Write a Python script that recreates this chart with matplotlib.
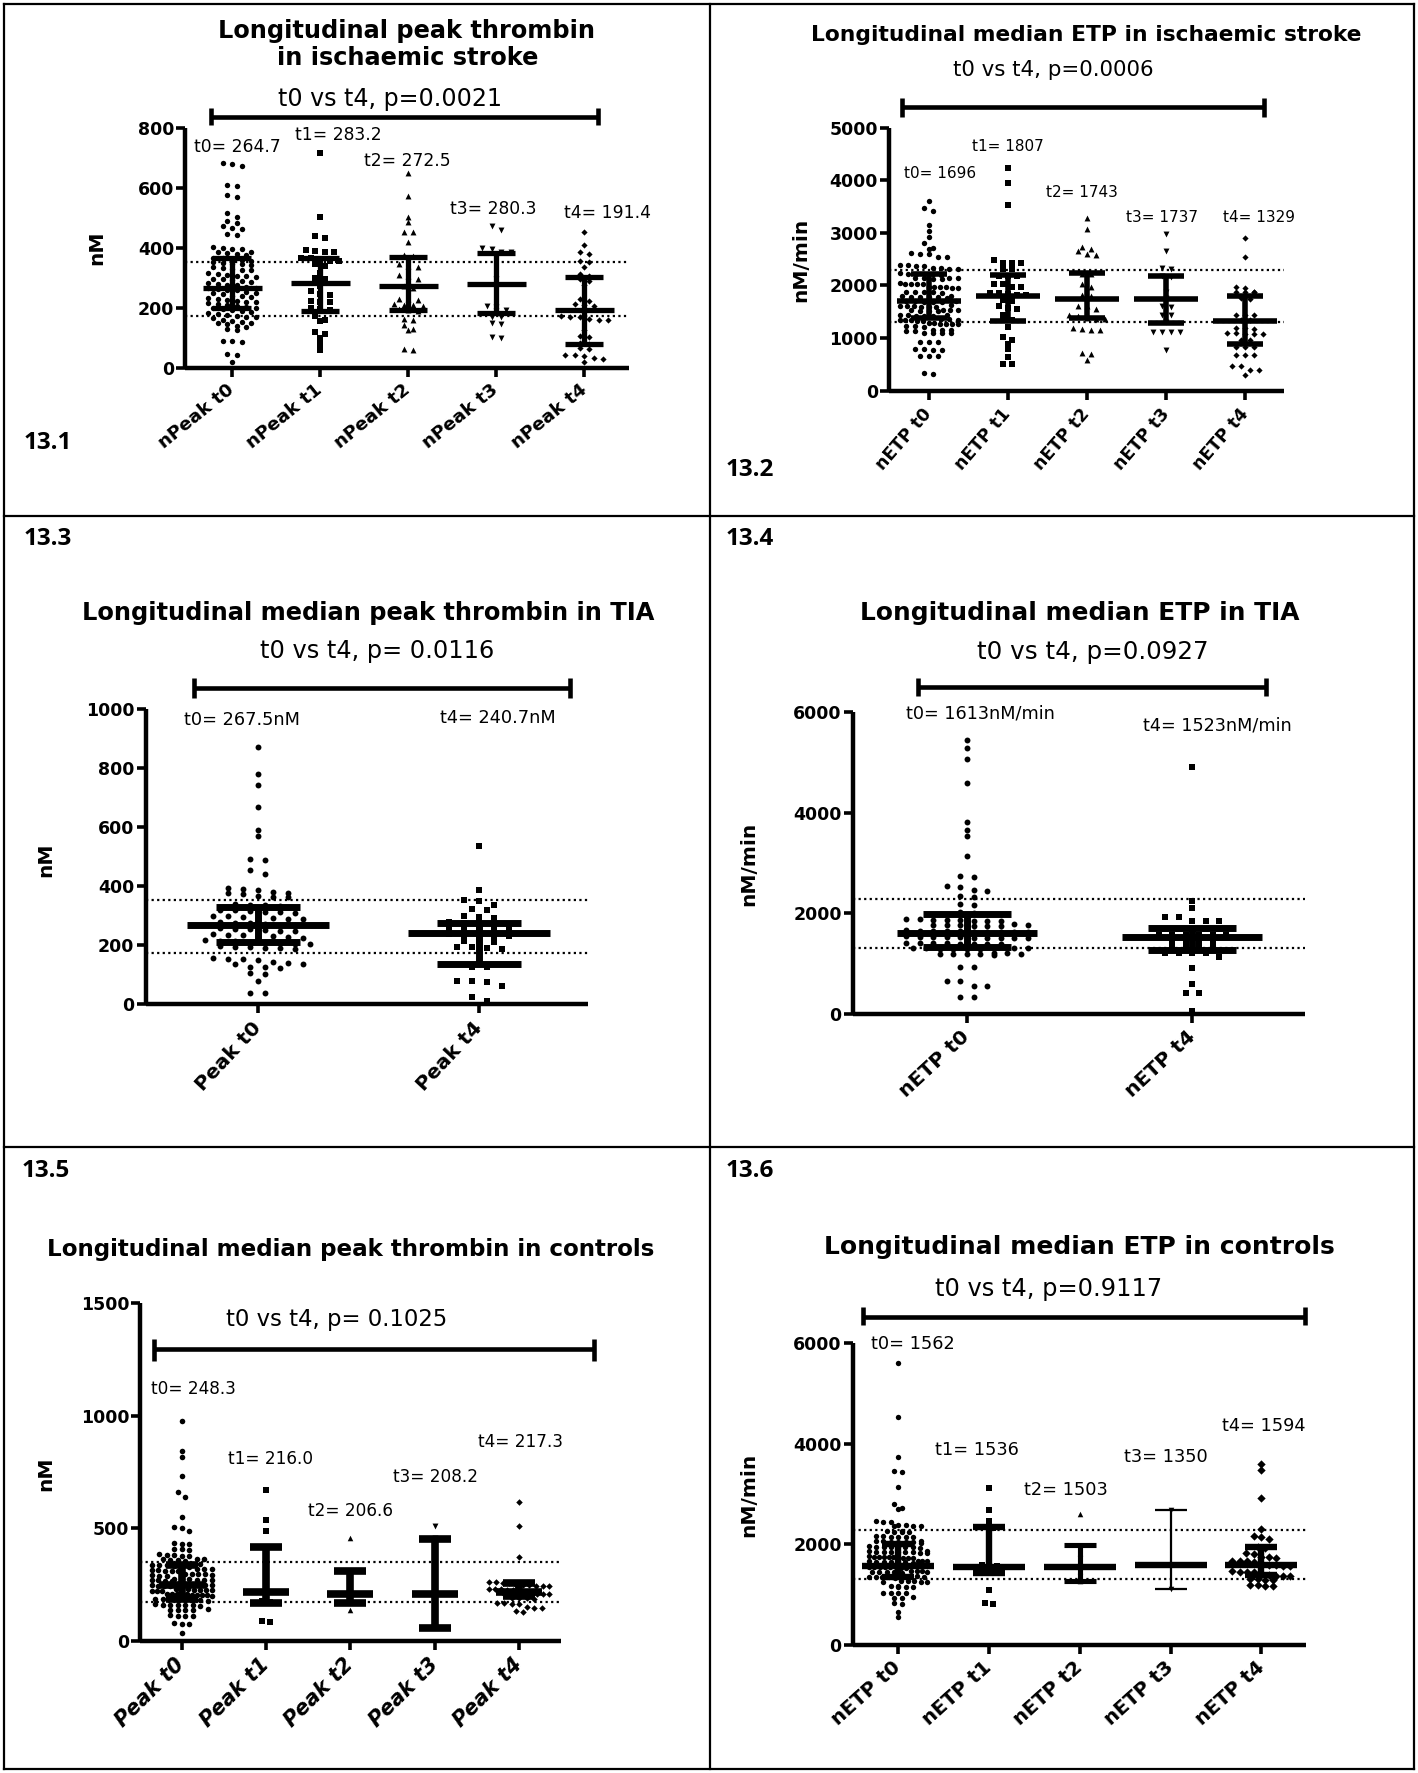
import numpy as np
import matplotlib
matplotlib.use("Agg")
import matplotlib.pyplot as plt
from matplotlib.lines import Line2D

plt.rcParams['font.family'] = ['DejaVu Sans']

# ======================= DATA =======================
peak_ref = [173, 352]
etp_ref = [1310, 2290]

# ---- 13.1 peak thrombin, ischaemic stroke ----
p1_categories = ["nPeak t0", "nPeak t1", "nPeak t2", "nPeak t3", "nPeak t4"]
p1_t0 = [685, 680, 675, 609, 606, 577, 570, 517, 502, 490, 485, 472, 468, 465, 448, 445,
         402, 400, 398, 395, 388, 385, 383, 380, 378, 368, 365, 362, 360, 355, 352, 350,
         348, 345, 342, 335, 332, 330, 328, 325, 315, 312, 310, 308, 305, 302, 298, 295,
         292, 290, 285, 282, 280, 278, 275, 270, 268, 265, 262, 260, 258, 252, 250, 248,
         245, 240, 238, 235, 232, 230, 225, 222, 220, 218, 215, 212, 208, 205, 203, 200,
         198, 195, 192, 188, 185, 182, 180, 175, 172, 170, 168, 165, 158, 155, 152, 150,
         148, 145, 138, 135, 130, 125, 90, 88, 85, 45, 42, 20]
p1_t1 = [718, 504, 440, 435, 392, 390, 388, 385, 368, 365, 362, 358, 355, 345, 340, 318,
         300, 295, 272, 255, 245, 242, 222, 220, 218, 198, 195, 192, 172, 158, 155, 118,
         112, 100, 80, 58]
p1_t2 = [650, 573, 505, 488, 455, 452, 420, 375, 372, 345, 340, 338, 310, 305, 295, 290,
         272, 268, 230, 228, 225, 212, 210, 208, 205, 195, 192, 190, 162, 158, 143, 128,
         125, 62, 60]
p1_t3 = [472, 460, 400, 398, 388, 385, 298, 205, 202, 192, 188, 170, 168, 150, 146, 102, 98]
p1_t4 = [455, 410, 385, 380, 358, 352, 338, 312, 308, 295, 290, 276, 228, 224, 212, 210,
         207, 188, 172, 170, 168, 162, 160, 158, 126, 106, 102, 82, 80, 66, 64, 44, 42, 40,
         32, 30, 20]
p1_median = [264.7, 283.2, 272.5, 280.3, 191.4]
p1_q1 = [200, 190, 193, 182, 79]
p1_q3 = [368, 368, 369, 382, 302]
p1_labels = ["t0= 264.7", "t1= 283.2", "t2= 272.5", "t3= 280.3", "t4= 191.4"]
p1_title = ["Longitudinal peak thrombin", "in ischaemic stroke"]
p1_ptext = "t0 vs t4, p=0.0021"

# ---- 13.2 ETP, ischaemic stroke ----
p2_categories = ["nETP t0", "nETP t1", "nETP t2", "nETP t3", "nETP t4"]
p2_t0 = [3610, 3480, 3420, 3155, 3040, 2915, 2800, 2715, 2700, 2610, 2600, 2590, 2545, 2535,
         2390, 2385, 2380, 2375, 2330, 2325, 2320, 2315, 2230, 2225, 2220, 2215, 2210, 2205,
         2150, 2145, 2140, 2135, 2130, 2125, 2040, 2035, 2030, 2025, 2020, 1980, 1975, 1970,
         1965, 1960, 1955, 1885, 1880, 1875, 1870, 1865, 1800, 1795, 1790, 1785, 1780, 1775,
         1770, 1710, 1705, 1700, 1695, 1690, 1685, 1620, 1615, 1610, 1605, 1600, 1595, 1590,
         1540, 1535, 1530, 1525, 1520, 1515, 1510, 1440, 1435, 1430, 1425, 1420, 1415, 1360,
         1355, 1350, 1345, 1340, 1335, 1330, 1325, 1285, 1280, 1275, 1270, 1265, 1260, 1230,
         1225, 1220, 1155, 1150, 1145, 1140, 1135, 1105, 1100, 1095, 1090, 935, 930, 925,
         790, 785, 780, 775, 665, 660, 655, 335, 325]
p2_t1 = [4240, 3945, 3535, 2490, 2430, 2425, 2420, 2320, 2310, 2185, 2180, 2175, 2035, 2025,
         1975, 1965, 1860, 1855, 1830, 1825, 1820, 1720, 1710, 1610, 1565, 1555, 1430, 1345,
         1340, 1335, 1210, 1020, 960, 880, 790, 645, 500, 500]
p2_t2 = [3280, 3070, 2740, 2690, 2650, 2600, 2580, 2225, 2215, 2030, 1970, 1815, 1805, 1615,
         1605, 1560, 1435, 1425, 1375, 1370, 1365, 1200, 1165, 1160, 1155, 710, 700, 580]
p2_t3 = [2970, 2660, 2330, 2320, 2175, 2165, 1880, 1770, 1605, 1595, 1445, 1435, 1310, 1125,
         1120, 1115, 1110, 775]
p2_t4 = [2900, 2550, 1970, 1960, 1885, 1880, 1875, 1870, 1760, 1750, 1445, 1440, 1435, 1350,
         1340, 1190, 1185, 1180, 1095, 1090, 1085, 1080, 1075, 970, 960, 840, 835, 830, 685,
         680, 675, 475, 465, 400, 390, 300]
p2_median = [1696, 1807, 1743, 1737, 1329]
p2_q1 = [1388, 1331, 1375, 1293, 881]
p2_q3 = [2212, 2200, 2243, 2180, 1800]
p2_labels = ["t0= 1696", "t1= 1807", "t2= 1743", "t3= 1737", "t4= 1329"]
p2_title = ["Longitudinal median ETP in ischaemic stroke"]
p2_ptext = "t0 vs t4, p=0.0006"

# ---- 13.3 peak thrombin, TIA ----
p3_categories = ["Peak t0", "Peak t4"]
p3_t0 = [871, 780, 743, 668, 589, 569, 492, 488, 456, 442, 395, 392, 388, 380, 378, 376, 374,
         366, 364, 362, 340, 338, 336, 334, 320, 318, 316, 314, 312, 310, 300, 298, 296, 294,
         292, 290, 288, 278, 276, 274, 272, 270, 268, 258, 256, 254, 252, 250, 248, 238, 236,
         234, 232, 230, 228, 226, 218, 216, 214, 212, 210, 208, 206, 204, 198, 196, 194, 192,
         190, 188, 156, 154, 152, 150, 142, 140, 138, 136, 128, 126, 124, 106, 104, 79, 39, 37]
p3_t4 = [537, 388, 352, 350, 337, 322, 320, 298, 296, 294, 278, 276, 274, 272, 270, 258, 256,
         254, 252, 250, 238, 236, 234, 232, 230, 216, 214, 212, 196, 194, 192, 188, 128, 126,
         80, 78, 76, 63, 24, 11]
p3_median = [267.5, 240.7]
p3_q1 = [211, 137]
p3_q3 = [331, 276]
p3_labels = ["t0= 267.5nM", "t4= 240.7nM"]
p3_title = ["Longitudinal median peak thrombin in TIA"]
p3_ptext = "t0 vs t4, p= 0.0116"

# ---- 13.4 ETP, TIA ----
p4_categories = ["nETP t0", "nETP t4"]
p4_t0 = [5440, 5280, 5070, 4590, 3810, 3650, 3530, 3130, 2740, 2720, 2540, 2520, 2460, 2440,
         2340, 2320, 2180, 2160, 2020, 2000, 1885, 1880, 1872, 1868, 1860, 1855, 1850, 1845,
         1780, 1776, 1770, 1765, 1760, 1752, 1748, 1745, 1660, 1655, 1650, 1645, 1642, 1638,
         1632, 1628, 1625, 1620, 1540, 1535, 1530, 1526, 1522, 1518, 1512, 1508, 1505, 1500,
         1420, 1415, 1410, 1405, 1400, 1395, 1392, 1388, 1315, 1312, 1308, 1305, 1300, 1296,
         1292, 1288, 1210, 1206, 1200, 1196, 1192, 1188, 1185, 1180, 940, 930, 660, 650, 565,
         555, 340, 330]
p4_t4 = [4900, 2250, 2107, 1935, 1925, 1855, 1850, 1845, 1695, 1690, 1688, 1685, 1680, 1575,
         1572, 1570, 1568, 1565, 1560, 1455, 1450, 1448, 1445, 1335, 1330, 1328, 1325, 1215,
         1212, 1210, 1205, 1130, 910, 590, 420, 410, 55]
p4_median = [1613, 1523]
p4_q1 = [1333, 1277]
p4_q3 = [1987, 1707]
p4_labels = ["t0= 1613nM/min", "t4= 1523nM/min"]
p4_title = ["Longitudinal median ETP in TIA"]
p4_ptext = "t0 vs t4, p=0.0927"

# ---- 13.5 peak thrombin, controls ----
p5_categories = ["Peak t0", "Peak t1", "Peak t2", "Peak t3", "Peak t4"]
p5_t0 = [976, 843, 816, 734, 659, 638, 549, 505, 499, 486, 435, 431, 428, 410, 406, 402, 385,
         382, 380, 378, 375, 365, 363, 362, 360, 358, 356, 342, 340, 339, 338, 336, 334, 332,
         330, 320, 318, 317, 316, 314, 312, 310, 308, 298, 297, 296, 295, 294, 292, 290, 288,
         275, 274, 273, 272, 271, 270, 269, 268, 267, 266, 252, 251, 250, 249, 248, 247, 246,
         245, 244, 243, 230, 229, 228, 227, 226, 225, 224, 223, 222, 221, 210, 209, 208, 207,
         206, 205, 204, 203, 202, 201, 186, 185, 184, 183, 182, 181, 180, 179, 162, 161, 160,
         159, 158, 157, 156, 140, 139, 138, 137, 136, 114, 112, 110, 108, 78, 76, 74, 36]
p5_t1 = [670, 535, 486, 339, 303, 228, 176, 172, 88, 82]
p5_t2 = [456, 232, 184, 135]
p5_t3 = [510, 455, 208, 60]
p5_t4 = [615, 510, 374, 262, 260, 258, 256, 248, 247, 246, 245, 244, 243, 230, 229, 228, 227,
         226, 225, 212, 211, 210, 209, 208, 207, 190, 189, 188, 187, 167, 166, 165, 164, 149,
         147, 145, 131, 129]
p5_median = [248.3, 216.0, 206.6, 208.2, 217.3]
p5_q1 = [185, 166, 166, 59, 201]
p5_q3 = [335, 415, 312, 454, 255]
p5_labels = ["t0= 248.3", "t1= 216.0", "t2= 206.6", "t3= 208.2", "t4= 217.3"]
p5_title = ["Longitudinal median peak thrombin in controls"]
p5_ptext = "t0 vs t4, p= 0.1025"

# ---- 13.6 ETP, controls ----
p6_categories = ["nETP t0", "nETP t1", "nETP t2", "nETP t3", "nETP t4"]
p6_t0 = [5600, 4540, 3730, 3460, 3440, 3130, 2800, 2720, 2700, 2460, 2450, 2440, 2385, 2380,
         2372, 2368, 2360, 2265, 2260, 2252, 2248, 2240, 2160, 2155, 2150, 2146, 2140, 2135,
         2065, 2060, 2056, 2052, 2048, 2044, 2040, 2035, 1960, 1955, 1952, 1948, 1945, 1940,
         1936, 1930, 1865, 1860, 1856, 1852, 1850, 1846, 1842, 1838, 1835, 1830, 1760, 1756,
         1752, 1748, 1745, 1742, 1738, 1735, 1730, 1725, 1670, 1665, 1662, 1658, 1655, 1650,
         1646, 1642, 1638, 1635, 1565, 1560, 1556, 1552, 1548, 1545, 1542, 1538, 1535, 1530,
         1470, 1466, 1462, 1458, 1455, 1450, 1446, 1442, 1438, 1365, 1360, 1356, 1352, 1348,
         1345, 1340, 1335, 1270, 1265, 1262, 1258, 1255, 1250, 1165, 1160, 1156, 1152, 1148,
         1040, 1035, 1030, 1025, 945, 940, 935, 825, 815, 660, 560]
p6_t1 = [3115, 2680, 2455, 2340, 2330, 2200, 1585, 1580, 1575, 1440, 1435, 1430, 1100, 825, 815]
p6_t2 = [2600, 1817, 1660, 1475, 1260]
p6_t3 = [2680, 1594, 1110]
p6_t4 = [3595, 3475, 2930, 2295, 2155, 2145, 2095, 1940, 1935, 1820, 1815, 1740, 1737, 1735,
         1662, 1660, 1658, 1655, 1582, 1580, 1578, 1575, 1572, 1460, 1458, 1455, 1452, 1383,
         1380, 1378, 1375, 1372, 1302, 1300, 1298, 1295, 1182, 1180, 1178, 1175]
p6_median = [1562, 1555, 1555, 1594, 1594]
p6_q1 = [1340, 1435, 1275, 1110, 1390]
p6_q3 = [2010, 2335, 1977, 2680, 1953]
p6_labels = ["t0= 1562", "t1= 1536", "t2= 1503", "t3= 1350", "t4= 1594"]
p6_title = ["Longitudinal median ETP in controls"]
p6_ptext = "t0 vs t4, p=0.9117"

# ======================= FIGURE =======================
W, H = 1418, 1773
fig = plt.figure(figsize=(W / 100, H / 100), dpi=100)
renderer = fig.canvas.get_renderer()


def fx(x):
    return x / W


def fy(y):
    return 1 - y / H


def measure(s, **kw):
    t = fig.text(0, 0, s, fontsize=10, **kw)
    w = t.get_window_extent(renderer).width
    t.remove()
    return w


def fit_size(s, width_px, **kw):
    return 10 * width_px / measure(s, **kw)


def swarm(vals, row_h, dx, max_half):
    v = np.sort(np.asarray(vals, float))[::-1]
    xs = np.zeros(len(v))
    rows, cur = [], [0]
    for i in range(1, len(v)):
        if v[cur[0]] - v[i] < row_h:
            cur.append(i)
        else:
            rows.append(cur)
            cur = [i]
    rows.append(cur)
    for r in rows:
        n = len(r)
        step = dx if (n - 1) * dx <= 2 * max_half else 2 * max_half / max(n - 1, 1)
        for k, idx in enumerate(r):
            xs[idx] = (k - (n - 1) / 2) * step
    return v, xs


def draw_panel(P):
    left, right, bottom, top = P['box']
    ax = fig.add_axes([fx(left), fy(bottom), (right - left) / W, (bottom - top) / H])
    ymax = P['yticks'][-1]
    ax.set_xlim(*P['xlim'])
    ax.set_ylim(0, ymax)
    cat_px = (right - left) / (P['xlim'][1] - P['xlim'][0])
    y_per_px = ymax / (bottom - top)

    for r in P['ref']:
        ax.axhline(r, color='k', lw=1.6, ls=(0, (1, 1.5)), zorder=2)

    for i, (vals, m) in enumerate(zip(P['groups'], P['markers'])):
        v, xo = swarm(vals, P['row_px'] * y_per_px, P['dx_px'] / cat_px, P['half_px'] / cat_px)
        ax.scatter(i + xo, v, marker=m, s=P['ms'][m], color='k', linewidths=0,
                   clip_on=False, zorder=3)

    mh = P['med_half'] / cat_px
    ch = P['cap_half'] / cat_px
    for i in range(len(P['groups'])):
        lw = P['lw'] * P.get('lw_scale', [1] * 5)[i]
        kw = dict(color='k', solid_capstyle='butt', zorder=4, clip_on=False)
        ax.plot([i, i], [P['q1'][i], P['q3'][i]], lw=lw, **kw)
        ax.plot([i - ch, i + ch], [P['q1'][i]] * 2, lw=lw, **kw)
        ax.plot([i - ch, i + ch], [P['q3'][i]] * 2, lw=lw, **kw)
        ax.plot([i - mh, i + mh], [P['median'][i]] * 2, lw=P['lw'], **kw)

    for s in ['top', 'right']:
        ax.spines[s].set_visible(False)
    for s in ['left', 'bottom']:
        ax.spines[s].set_linewidth(3.2)
        ax.spines[s].set_capstyle('butt')
    ax.set_yticks(P['yticks'])
    ax.set_yticklabels([str(t) for t in P['yticks']], fontsize=12.5, fontweight='bold')
    ax.set_xticks(range(len(P['cats'])))
    xfs = fit_size(P['cats'][0], P['xlab_len'], fontweight='bold',
                   fontstyle=P.get('style', 'normal'))
    ax.set_xticklabels(P['cats'], fontsize=xfs, fontweight='bold',
                       fontstyle=P.get('style', 'normal'), rotation=P['angle'],
                       ha='right', va='center', rotation_mode='anchor')
    ax.tick_params(axis='both', direction='out', length=6.5, width=2.6)
    ax.tick_params(axis='y', pad=1.5)
    ax.tick_params(axis='x', pad=8)
    ax.patch.set_alpha(0)

    # titles
    tfs = fit_size(P['title'][0], P['title_w'], fontweight='bold')
    for s, (cx, cy) in zip(P['title'], P['title_pos']):
        fig.text(fx(cx), fy(cy), s, fontsize=tfs, fontweight='bold', ha='center', va='center')
    # p-value text
    pfs = fit_size(P['ptext'], P['ptext_w'])
    fig.text(fx(P['ptext_pos'][0]), fy(P['ptext_pos'][1]), P['ptext'], fontsize=pfs,
             ha='center', va='center')
    # significance bar
    x0, x1, yb, yc0, yc1 = P['bar']
    lwb = 3.3
    fig.add_artist(Line2D([fx(x0), fx(x1)], [fy(yb), fy(yb)], color='k', lw=lwb,
                          solid_capstyle='butt'))
    for xx in (x0, x1):
        fig.add_artist(Line2D([fx(xx), fx(xx)], [fy(yc0), fy(yc1)], color='k', lw=lwb,
                              solid_capstyle='butt'))
    # median labels
    lfs = fit_size(P['labels'][0], P['label_w'])
    for s, (cx, cy) in zip(P['labels'], P['label_pos']):
        fig.text(fx(cx), fy(cy), s, fontsize=lfs, ha='center', va='center')
    # y label
    fig.text(fx(P['ylabel_pos'][0]), fy(P['ylabel_pos'][1]), P['ylabel'], fontsize=14.5,
             fontweight='bold', rotation=90, ha='center', va='center')
    # panel number
    fig.text(fx(P['num_pos'][0]), fy(P['num_pos'][1]), P['num'], fontsize=17.5,
             fontweight='bold', family=['Open Sans', 'DejaVu Sans'], ha='center', va='center')
    return ax


mk5 = ['o', 's', '^', 'v', 'D']

panels = [
    dict(box=(185.4, 628.5, 367.7, 128.3), xlim=(-0.53, 4.5), yticks=[0, 200, 400, 600, 800],
         groups=[p1_t0, p1_t1, p1_t2, p1_t3, p1_t4], markers=mk5,
         ms={'o': 15, 's': 14, '^': 18, 'v': 18, 'D': 10},
         median=p1_median, q1=p1_q1, q3=p1_q3, ref=peak_ref, cats=p1_categories,
         row_px=4.6, dx_px=9.5, half_px=32, med_half=29.5, cap_half=19, lw=3.8,
         angle=39, xlab_len=92, title=p1_title, title_w=376, title_pos=[(407, 31), (408, 58)],
         ptext=p1_ptext, ptext_w=223, ptext_pos=(390, 99),
         bar=(211, 598, 116.7, 108, 125),
         labels=p1_labels, label_w=86,
         label_pos=[(237, 147), (338, 135), (407, 161), (493, 209), (608, 213)],
         ylabel="nM", ylabel_pos=(97, 248), num="13.1", num_pos=(47.5, 443)),
    dict(box=(889, 1284, 390.7, 127.7), xlim=(-0.5, 4.49),
         yticks=[0, 1000, 2000, 3000, 4000, 5000],
         groups=[p2_t0, p2_t1, p2_t2, p2_t3, p2_t4], markers=mk5,
         ms={'o': 15, 's': 14, '^': 18, 'v': 18, 'D': 10},
         median=p2_median, q1=p2_q1, q3=p2_q3, ref=etp_ref, cats=p2_categories,
         row_px=4.6, dx_px=9, half_px=29, med_half=32, cap_half=18, lw=4.0,
         angle=49, xlab_len=75, title=p2_title, title_w=549, title_pos=[(1086.6, 35)],
         ptext=p2_ptext, ptext_w=200, ptext_pos=(1053.5, 70),
         bar=(902.5, 1264, 107.3, 98, 117),
         labels=p2_labels, label_w=72,
         label_pos=[(939.6, 173.3), (1007.4, 146.7), (1082, 192.7), (1162, 217.3),
                    (1259, 217.3)],
         ylabel="nM/min", ylabel_pos=(801, 259.5), num="13.2", num_pos=(749.7, 470)),
    dict(box=(145.6, 587.8, 1004.4, 709), xlim=(-0.506, 1.49),
         yticks=[0, 200, 400, 600, 800, 1000],
         groups=[p3_t0, p3_t4], markers=['o', 's'], ms={'o': 18, 's': 17},
         median=p3_median, q1=p3_q1, q3=p3_q3, ref=peak_ref, cats=p3_categories,
         row_px=5.5, dx_px=15, half_px=70, med_half=71, cap_half=42, lw=5.0,
         angle=47, xlab_len=87, title=p3_title, title_w=574, title_pos=[(368.5, 613.4)],
         ptext=p3_ptext, ptext_w=233, ptext_pos=(377.6, 650.8),
         bar=(193.5, 569.7, 687.8, 677.7, 697.8),
         labels=p3_labels, label_w=116, label_pos=[(241.9, 719.9), (497.4, 717.9)],
         ylabel="nM", ylabel_pos=(46, 859.5), num="13.3", num_pos=(47.5, 539)),
    dict(box=(852.8, 1305, 1014, 711.9), xlim=(-0.506, 1.5), yticks=[0, 2000, 4000, 6000],
         groups=[p4_t0, p4_t4], markers=['o', 's'], ms={'o': 18, 's': 17},
         median=p4_median, q1=p4_q1, q3=p4_q3, ref=etp_ref, cats=p4_categories,
         row_px=5.5, dx_px=13.5, half_px=68, med_half=70, cap_half=44, lw=5.0,
         angle=43, xlab_len=88, title=p4_title, title_w=439, title_pos=[(1079.8, 613.4)],
         ptext=p4_ptext, ptext_w=230.6, ptext_pos=(1093.3, 651.6),
         bar=(917.9, 1266, 686.6, 677.7, 695.8),
         labels=p4_labels, label_w=149, label_pos=[(980.3, 713.9), (1217.7, 725.9)],
         ylabel="nM/min", ylabel_pos=(748.6, 863.5), num="13.4", num_pos=(749.7, 539)),
    dict(box=(140.2, 560.7, 1640.8, 1303.2), xlim=(-0.49, 4.49), yticks=[0, 500, 1000, 1500],
         groups=[p5_t0, p5_t1, p5_t2, p5_t3, p5_t4], markers=mk5,
         ms={'o': 16, 's': 18, '^': 16, 'v': 18, 'D': 11},
         median=p5_median, q1=p5_q1, q3=p5_q3, ref=peak_ref, cats=p5_categories,
         row_px=5, dx_px=7.5, half_px=30, med_half=23, cap_half=16, lw=5.5,
         angle=45, xlab_len=88, style='italic',
         title=p5_title, title_w=608, title_pos=[(350.4, 1249.9)],
         ptext=p5_ptext, ptext_w=220.7, ptext_pos=(336.9, 1319.2),
         bar=(153.7, 593.7, 1349.2, 1339.2, 1361.3),
         labels=p5_labels, label_w=84.5,
         label_pos=[(193.5, 1389.3), (270.4, 1459.4), (350.4, 1511.4), (435.4, 1476.6),
                    (520, 1442.2)],
         ylabel="nM", ylabel_pos=(46, 1474), num="13.5", num_pos=(46, 1171)),
    dict(box=(852.8, 1305.9, 1644.8, 1343.2), xlim=(-0.5, 4.49), yticks=[0, 2000, 4000, 6000],
         groups=[p6_t0, p6_t1, p6_t2, p6_t3, p6_t4], markers=mk5,
         ms={'o': 15, 's': 17, '^': 16, 'v': 16, 'D': 18},
         median=p6_median, q1=p6_q1, q3=p6_q3, ref=etp_ref, cats=p6_categories,
         row_px=5, dx_px=7.5, half_px=29, med_half=36, cap_half=16, lw=4.6,
         lw_scale=[1, 1, 0.8, 0.35, 1],
         angle=42, xlab_len=86, title=p6_title, title_w=509, title_pos=[(1079.8, 1247.1)],
         ptext=p6_ptext, ptext_w=227, ptext_pos=(1049, 1289.2),
         bar=(862.7, 1305, 1317.2, 1307.2, 1325.2),
         labels=p6_labels, label_w=83.6,
         label_pos=[(912.5, 1344), (976.7, 1450.2), (1066.2, 1490.2), (1165.7, 1457.4),
                    (1263.8, 1426.1)],
         ylabel="nM/min", ylabel_pos=(748.6, 1494.5), num="13.6", num_pos=(749.7, 1171)),
]

for P in panels:
    draw_panel(P)

# table grid
xl, xm, xr = 4, 710, 1414
yt, y1, y2, yb = 4, 516, 1147, 1769
lines = [((xl, xr), (yt, yt)), ((xl, xr), (y1, y1)), ((xl, xr), (y2, y2)), ((xl, xr), (yb, yb)),
         ((xl, xl), (yt, yb)), ((xm, xm), (yt, yb)), ((xr, xr), (yt, yb))]
for (xa, xb), (ya, yb_) in lines:
    fig.add_artist(Line2D([fx(xa), fx(xb)], [fy(ya), fy(yb_)], color='k', lw=1.6))

fig.savefig("out.png", dpi=100)
